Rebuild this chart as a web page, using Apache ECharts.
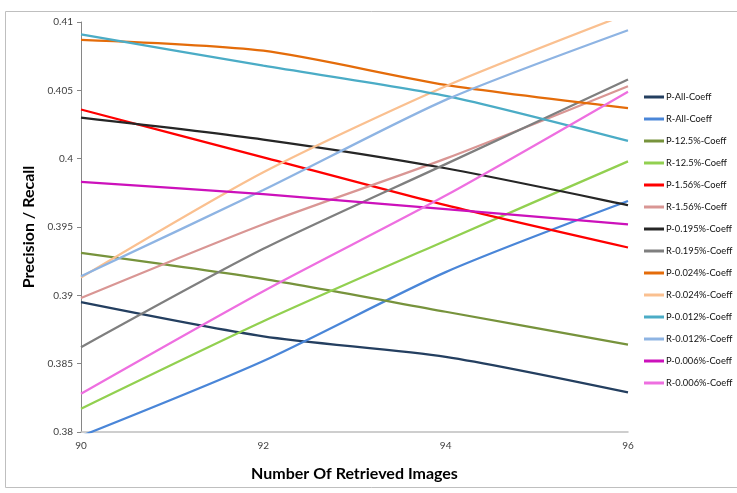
<!DOCTYPE html>
<html>
<head>
<meta charset="utf-8">
<script src="https://cdn.jsdelivr.net/npm/echarts@6/dist/echarts.min.js"></script>
<style>
html,body{margin:0;padding:0;background:#fff;}
#chart{width:737px;height:493px;}
</style>
</head>
<body>
<div id="chart"></div>
<script>
// Data (x = number of retrieved images)
const xValues = [90, 92, 94, 96];
const seriesNames = [
  'P-All-Coeff','R-All-Coeff','P-12.5%-Coeff','R-12.5%-Coeff','P-1.56%-Coeff','R-1.56%-Coeff',
  'P-0.195%-Coeff','R-0.195%-Coeff','P-0.024%-Coeff','R-0.024%-Coeff','P-0.012%-Coeff','R-0.012%-Coeff',
  'P-0.006%-Coeff','R-0.006%-Coeff'
];
const pAll    = [0.3895, 0.3870, 0.3855, 0.3829];
const rAll    = [0.3797, 0.3852, 0.3917, 0.3969];
const p125    = [0.3931, 0.3912, 0.3888, 0.3864];
const r125    = [0.3817, 0.3881, 0.3940, 0.3998];
const p156    = [0.4036, 0.4001, 0.3966, 0.3935];
const r156    = [0.3898, 0.3952, 0.4000, 0.4053];
const p0195   = [0.4030, 0.4014, 0.3993, 0.3966];
const r0195   = [0.3862, 0.3934, 0.3996, 0.4058];
const p0024   = [0.4087, 0.4079, 0.4054, 0.4037];
const r0024   = [0.3913, 0.3990, 0.4053, 0.4106];
const p0012   = [0.4091, 0.4068, 0.4046, 0.4013];
const r0012   = [0.3914, 0.3977, 0.4043, 0.4094];
const p0006   = [0.3983, 0.3974, 0.3963, 0.3952];
const r0006   = [0.3828, 0.3903, 0.3973, 0.4049];
const seriesValues = [pAll, rAll, p125, r125, p156, r156, p0195, r0195, p0024, r0024, p0012, r0012, p0006, r0006];
const colors = ['#243F60','#4A86D8','#77933C','#92D050','#FF0000','#D99694',
  '#262626','#7F7F7F','#E46C0A','#FAC090','#4BACC6','#8EB4E3','#CC11BB','#EE6FE0'];
const xTicks = {min: 90, max: 96, interval: 2};
const yTicks = {min: 0.38, max: 0.41, interval: 0.005};

const FONT = 'Lato, "Open Sans", sans-serif';
const chart = echarts.init(document.getElementById('chart'), null, {renderer: 'canvas'});
chart.setOption({
  animation: false,
  color: colors,
  graphic: [{
    type: 'rect', silent: true,
    shape: {x: 5.5, y: 11.5, width: 740, height: 476},
    style: {fill: 'none', stroke: '#BFBFBF', lineWidth: 1}
  }],
  grid: {left: 81, right: 109, top: 22, bottom: 61},
  legend: {
    orient: 'vertical', left: 644, top: 91, padding: 0,
    itemWidth: 20, itemHeight: 3, icon: 'rect', itemGap: 10,
    textStyle: {fontFamily: FONT, fontSize: 9.3, color: '#111', lineHeight: 12, padding: [0, 0, 0, -3]},
    data: seriesNames
  },
  xAxis: {
    type: 'value', min: xTicks.min, max: xTicks.max, interval: xTicks.interval,
    name: 'Number Of Retrieved Images', nameLocation: 'middle', nameGap: 34,
    nameTextStyle: {fontFamily: FONT, fontSize: 16, fontWeight: 'bold', color: '#000'},
    axisLine: {show: true, lineStyle: {color: '#BFBFBF', width: 1.5}},
    axisTick: {show: false},
    splitLine: {show: false},
    axisLabel: {fontFamily: FONT, fontSize: 10, color: '#404040', margin: 9}
  },
  yAxis: {
    type: 'value', min: yTicks.min, max: yTicks.max, interval: yTicks.interval,
    name: 'Precision / Recall', nameLocation: 'middle', nameGap: 44, nameRotate: 90,
    nameTextStyle: {fontFamily: FONT, fontSize: 16, fontWeight: 'bold', color: '#000'},
    axisLine: {show: true, lineStyle: {color: '#868686', width: 1}},
    axisTick: {show: true, length: 4, inside: false, lineStyle: {color: '#868686'}},
    splitLine: {show: false},
    axisLabel: {fontFamily: FONT, fontSize: 10, color: '#404040', margin: 8,
      formatter: v => String(+v.toFixed(3))}
  },
  series: seriesNames.map((name, i) => ({
    name: name, type: 'line',
    data: xValues.map((x, j) => [x, seriesValues[i][j]]),
    showSymbol: false, symbol: 'none', smooth: 0.25, clip: true,
    lineStyle: {width: 2.25, color: colors[i]},
    emphasis: {disabled: true}
  }))
});
</script>
</body>
</html>
